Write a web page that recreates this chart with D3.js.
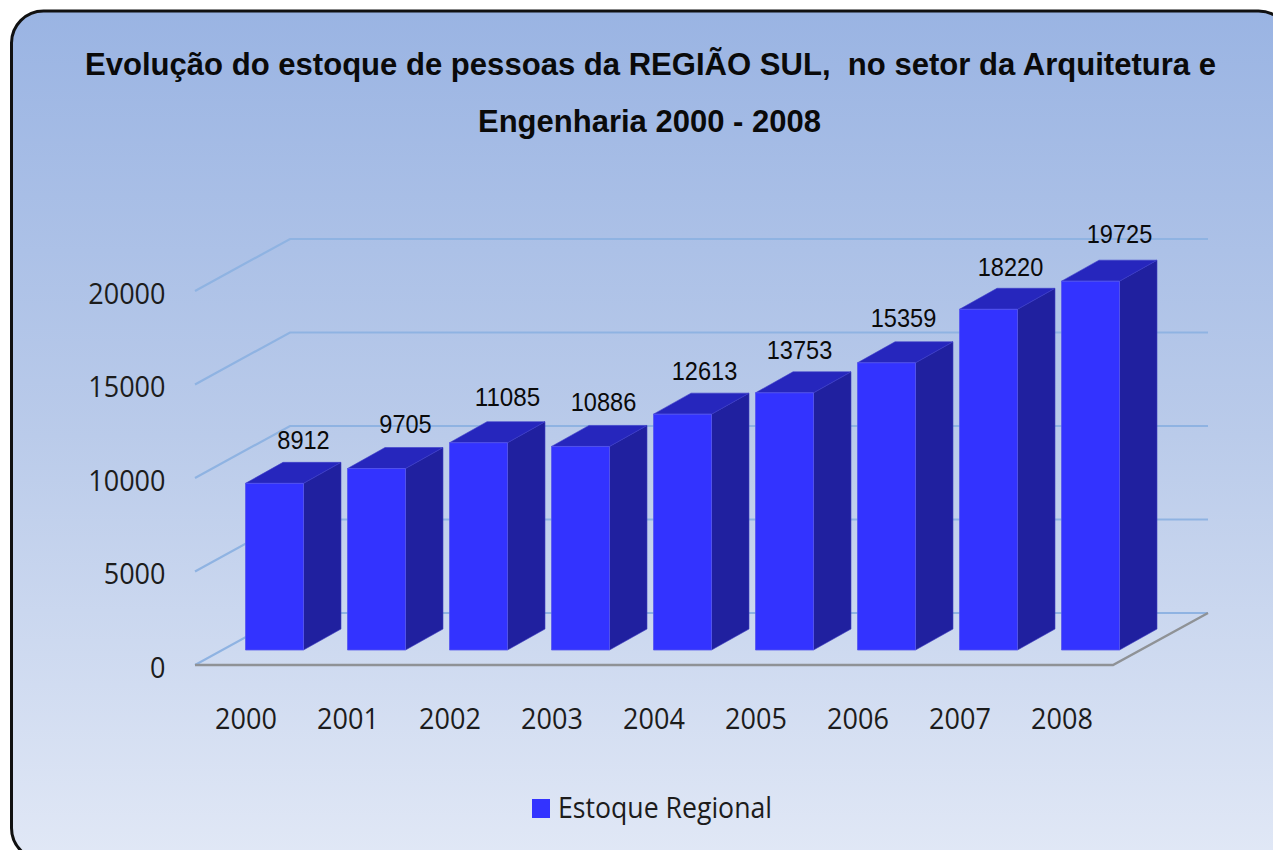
<!DOCTYPE html>
<html>
<head>
<meta charset="utf-8">
<script src="https://cdnjs.cloudflare.com/ajax/libs/d3/7.8.5/d3.min.js"></script>
<style>
  html, body { margin: 0; padding: 0; background: #fff; overflow: hidden; }
  svg { display: block; }
</style>
</head>
<body>
<script>
// data
var years = ["2000", "2001", "2002", "2003", "2004", "2005", "2006", "2007", "2008"];
var estoque = [8912, 9705, 11085, 10886, 12613, 13753, 15359, 18220, 19725];
var yTicks = [0, 5000, 10000, 15000, 20000];
var seriesName = "Estoque Regional";
var titleLines = ["Evolução do estoque de pessoas da REGIÃO SUL,  no setor da Arquitetura e", "Engenharia 2000 - 2008"];

var svgWidth = 1273;
var svgHeight = 850;

var svg = d3.select("body")
            .append("svg")
            .attr("width", svgWidth)
            .attr("height", svgHeight);

// background gradient of the chart area
var defs = svg.append("defs");
var grad = defs.append("linearGradient")
               .attr("id", "bg")
               .attr("x1", 0).attr("y1", 0)
               .attr("x2", 0).attr("y2", 1);
grad.append("stop").attr("offset", "0%").attr("stop-color", "#9ab4e3");
grad.append("stop").attr("offset", "50%").attr("stop-color", "#bacbea");
grad.append("stop").attr("offset", "100%").attr("stop-color", "#e1e8f6");

// the frame runs off the right and bottom of the picture
svg.append("rect")
   .attr("x", 11.5).attr("y", 11)
   .attr("width", 1279).attr("height", 849)
   .attr("rx", 32).attr("ry", 32)
   .attr("fill", "url(#bg)")
   .attr("stroke", "#111")
   .attr("stroke-width", 3);

// title
var title = svg.append("g").attr("font-family", "'Liberation Sans', Arial, sans-serif")
               .attr("font-weight", "bold")
               .attr("fill", "#0a0a0a")
               .attr("text-anchor", "middle");
title.append("text")
     .attr("x", 650.5).attr("y", 75)
     .attr("font-size", 32)
     .attr("textLength", 1131)
     .attr("lengthAdjust", "spacingAndGlyphs")
     .style("white-space", "pre")
     .text(titleLines[0]);
title.append("text")
     .attr("x", 649.5).attr("y", 132)
     .attr("font-size", 32)
     .attr("textLength", 343)
     .attr("lengthAdjust", "spacingAndGlyphs")
     .text(titleLines[1]);

// 3d box: front floor edge and how far the back wall is pushed
var floorLeft = 195;
var floorRight = 1113;
var depthX = 95;
var depthY = 52;

var xScale = d3.scaleBand()
               .domain(years)
               .range([floorLeft, floorRight])
               .paddingInner(44 / 102)
               .paddingOuter(22 / 102);

var yScale = d3.scaleLinear()
               .domain([0, 20000])
               .range([665, 291]);

// gridlines, side wall then back wall
var gridLine = d3.line();
svg.append("g").selectAll("path")
   .data(yTicks)
   .enter()
   .append("path")
   .attr("d", d => gridLine([
       [floorLeft, yScale(d)],
       [floorLeft + depthX, yScale(d) - depthY],
       [floorRight + depthX, yScale(d) - depthY]
   ]))
   .attr("fill", "none")
   .attr("stroke", "#8fb3e2")
   .attr("stroke-width", 2.2);

// floor front and right edges
svg.append("path")
   .attr("d", gridLine([
       [floorLeft, yScale(0)],
       [floorRight, yScale(0)],
       [floorRight + depthX, yScale(0) - depthY]
   ]))
   .attr("fill", "none")
   .attr("stroke", "#8f9296")
   .attr("stroke-width", 2.4);

// bars
var barShiftX = 28.5;
var barShiftY = 15;
var barDepthX = 37.5;
var barDepthY = 21;

function poly(points) {
    return gridLine(points) + "Z";
}

var bars = svg.append("g").selectAll("g")
              .data(estoque)
              .enter()
              .append("g");

function barLeft(i) { return xScale(years[i]) + barShiftX; }
function barRight(i) { return barLeft(i) + xScale.bandwidth(); }
function barTop(d) { return yScale(d) - barShiftY; }
var barBase = yScale(0) - barShiftY;

bars.append("path")   // side
    .attr("d", (d, i) => poly([
        [barRight(i), barTop(d)],
        [barRight(i) + barDepthX, barTop(d) - barDepthY],
        [barRight(i) + barDepthX, barBase - barDepthY],
        [barRight(i), barBase]
    ]))
    .attr("fill", "#20209f")
    .attr("stroke", "#3d3dbf")
    .attr("stroke-width", 0.6);

bars.append("path")   // top
    .attr("d", (d, i) => poly([
        [barLeft(i), barTop(d)],
        [barLeft(i) + barDepthX, barTop(d) - barDepthY],
        [barRight(i) + barDepthX, barTop(d) - barDepthY],
        [barRight(i), barTop(d)]
    ]))
    .attr("fill", "#2626bd")
    .attr("stroke", "#3d3dc9")
    .attr("stroke-width", 0.6);

bars.append("path")   // front
    .attr("d", (d, i) => poly([
        [barLeft(i), barTop(d)],
        [barRight(i), barTop(d)],
        [barRight(i), barBase],
        [barLeft(i), barBase]
    ]))
    .attr("fill", "#3333ff")
    .attr("stroke", "#5555ee")
    .attr("stroke-width", 0.8);

// value labels were hand placed in the original, so each gets its own nudge
var labelNudgeX = [0, 0, 0, -6, -7, -14, -12, -7, 0];
var labelNudgeY = [0, -2, -3, -1, 0, 0, -2, 1, -4];

svg.append("g").selectAll("text")
   .data(estoque)
   .enter()
   .append("text")
   .attr("x", (d, i) => barRight(i) + labelNudgeX[i])
   .attr("y", (d, i) => barTop(d) - 34 + labelNudgeY[i])
   .attr("text-anchor", "middle")
   .attr("font-family", "'Liberation Sans', Arial, sans-serif")
   .attr("font-size", 25)
   .attr("fill", "#0a0a0a")
   .attr("textLength", d => String(d).length * 13.1)
   .attr("lengthAdjust", "spacingAndGlyphs")
   .text(d => d);

// axes, only the labels are drawn by them
var leftAxis = d3.axisLeft(yScale).tickValues(yTicks).tickSize(0).tickPadding(0).tickFormat(d => d);
var bottomAxis = d3.axisBottom(xScale).tickSize(0).tickPadding(0);

var yAxisGroup = svg.append("g")
                    .attr("transform", "translate(165.5, 3)")
                    .call(leftAxis);
var xAxisGroup = svg.append("g")
                    .attr("transform", "translate(0, 708)")
                    .call(bottomAxis);

[yAxisGroup, xAxisGroup].forEach(function(axis) {
    axis.select(".domain").remove();
    axis.selectAll("text")
        .attr("font-family", "'Open Sans', sans-serif")
        .attr("font-size", 29)
        .attr("fill", "#1c1c1c")
        .attr("textLength", function() { return this.textContent.length * 15.45; })
        .attr("lengthAdjust", "spacingAndGlyphs");
});

// legend
svg.append("rect")
   .attr("x", 532).attr("y", 799)
   .attr("width", 18).attr("height", 19)
   .attr("fill", "#3333ff");
svg.append("text")
   .attr("x", 558).attr("y", 818)
   .attr("font-family", "'Open Sans', sans-serif")
   .attr("font-size", 29)
   .attr("fill", "#1c1c1c")
   .attr("textLength", 214)
   .attr("lengthAdjust", "spacingAndGlyphs")
   .text(seriesName);
</script>
</body>
</html>
